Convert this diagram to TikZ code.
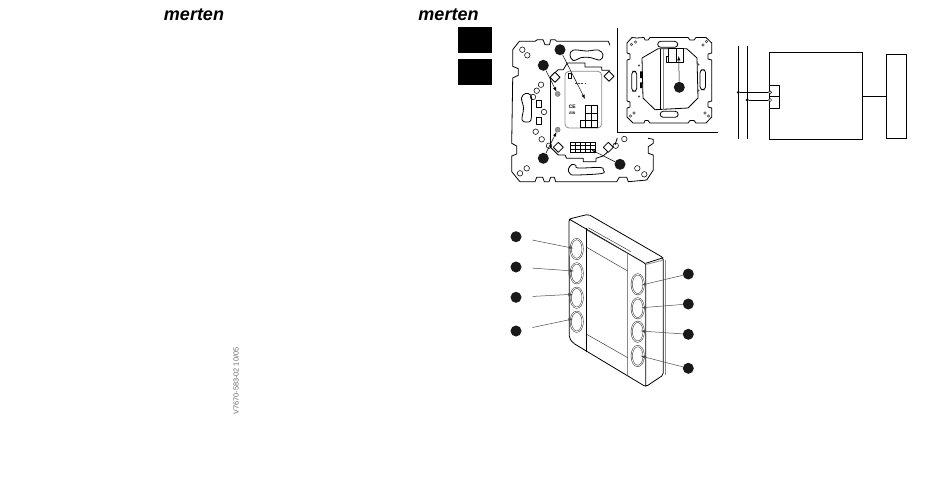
\documentclass[tikz,border=0pt]{standalone}
\usepackage{fontspec}
\setmainfont{Liberation Sans}
\usetikzlibrary{shapes.geometric}
\tikzset{
  part/.style={line width=0.8pt,line join=round},
  thinpart/.style={line width=0.5pt,black!75},
  greypart/.style={line width=0.8pt,black!45},
  dot/.style={circle,fill=black!90,inner sep=0pt,minimum size=11pt},
  hole/.style={circle,draw,line width=0.55pt,inner sep=0pt,minimum size=5.5pt},
  pin/.style={circle,fill=black!40,draw=black!60,inner sep=0pt,minimum size=5pt},
  slot/.style={draw,line width=0.8pt,rounded corners=3pt,inner sep=0pt},
  button/.style={ellipse,draw=black!80,double=white,double distance=0.8pt,line width=0.5pt,inner sep=0pt,minimum width=12pt,minimum height=20pt},
  arrow/.style={-latex,line width=0.5pt},
  lead/.style={line width=0.5pt,black!70},
  logo/.style={font=\fontsize{18}{18}\selectfont\bfseries\itshape,inner sep=0pt},
  tab/.style={fill=black,inner sep=0pt,minimum width=33.5pt,minimum height=26pt}
}
\begin{document}
\begin{tikzpicture}[x=1pt,y=-1pt]
  \fill[white] (0,0) rectangle (950,491);
  % logos and tabs
  \node[logo] (logoa) at (194,15) {merten};
  \node[logo] (logob) at (448.5,15) {merten};
  \node[tab] (taba) at (475,40.3) {};
  \node[tab] (tabb) at (475,72) {};
  \node[rotate=90,black!60,inner sep=0pt,font=\fontsize{7.3}{8}\selectfont] (docno) at (236,381) {V7670-583-02 10/05};

  % big plate
  \draw[part] (610,45.3) -- (608.3,41.3) -- (556.7,41.3) -- (555,39.7) -- (550.7,39.7) -- (549.5,44.7) -- (545,44.7) -- (543,39.7) -- (537.3,39.7) -- (535,41.3) -- (519.3,41.3) -- (512.7,49.7)
    -- (512.7,66.3) -- (518.3,68.7) -- (518.3,75.3) -- (512.7,78) -- (511.7,143.3) -- (516.7,146) -- (516.7,154) -- (511.7,156) -- (511.7,171.7) -- (520,181.7)
    -- (535,181.7) -- (536.7,177.3) -- (542.7,177.3) -- (544.3,181.7) -- (549,181.7) -- (550.7,177.3) -- (554.3,177.3) -- (555.7,181.7) -- (616.7,181.7) -- (619.3,177.3) -- (626.7,177.3) -- (628.3,181.7) -- (646.7,180)
    -- (653.3,170) -- (653.3,155) -- (648.3,153.3) -- (648.3,146.7) -- (653.3,143.3) -- (653.3,139.3) -- (648,138.3);
  \draw[part] (615,145) -- (617.3,138);
  % inner edge
  \draw[part] (550,78) -- (550,146.7);
  \draw[part] (552,75) -- (558.3,69.7) -- (563.3,69.7) -- (567.3,63) -- (585,63) -- (585,67) -- (601.7,67) -- (601.7,70.3) -- (610,70.3);
  \draw[part] (550,146.7) -- (558.3,155) -- (565,155) -- (566.7,158.3) -- (583.3,158.3) -- (583.3,161.7) -- (596,161.7) -- (596,158.3) -- (603,156) -- (610,150);
  \foreach \x/\y in {555/77.3,609/76.3,558.3/147.3,608.3/147.3}
    \draw[part,fill=white] (\x-5,\y) -- (\x,\y-5) -- (\x+5,\y) -- (\x,\y+5) -- cycle;
  % slots
  \draw[part] plot[smooth cycle,tension=0.6] coordinates {(570,55) (573.3,50) (586.7,51) (598.3,50) (603,54.7) (600,60) (590,57.5) (581.7,57.5) (573.3,60.5)};
  \draw[part] plot[smooth cycle,tension=0.6] coordinates {(568.3,169.3) (571.7,164.5) (576,165.5) (578,168) (600,167.5) (603.3,170) (601.7,173.5) (575,175) (570,173.5)};
  \draw[part] plot[smooth cycle,tension=0.6] coordinates {(521.5,98) (525.5,93.5) (531,95.3) (531.5,103) (531,119.7) (526,122) (522,119.7) (523.5,108)};
  % holes
  \foreach \x/\y in {522.3/49.7,527.3/55.3,541/84.7,536.7/90.7,533/97,544/112,535.7/131.7,541.7/139.3,520/173.3,526.7/168.3,637.3/168.3,644.3/174.3,549/145.7,615.7/145.7,624.3/139}
    \node[hole] at (\x,\y) {};
  \draw[part] (536.7,100.7) rectangle (541,107);
  \draw[part] (536.7,117.3) rectangle (541,124);
  % module
  \draw[greypart,rounded corners=4pt] (565,71.3) rectangle (601.7,128);
  \draw[part] (568.3,73) rectangle (571.7,78);
  \draw[thinpart,dash pattern=on 2pt off 1.2pt] (575,83) -- (585,83);
  \node[inner sep=0pt,font=\fontsize{5}{5}\selectfont\bfseries] (ce) at (572.3,106.3) {CE};
  \node[inner sep=0pt,font=\fontsize{3.5}{4}\selectfont\bfseries\itshape] (mark) at (572.3,113.7) {EIB};
  \draw[part] (585.7,105.7) rectangle (597.7,127.3);
  \draw[part] (591.7,105.7) -- (591.7,127.3) (585.7,112.9) -- (597.7,112.9) (585.7,120.1) -- (597.7,120.1);
  \draw[part] (585.7,120.7) -- (580,120.7) -- (580,127.3) -- (585.7,127.3);
  \draw[thinpart,black,shift={(570.7,142.3)}] (0,0) grid[xstep=5pt,ystep=3.33pt] (25,10);
  \draw[part] (570.7,142.3) rectangle (595.7,152.3);
  % callouts of the plate
  \node[dot] (dota) at (560,49.7) {};
  \node[dot] (dotb) at (543.3,65.3) {};
  \node[dot] (dotc) at (543.3,158.3) {};
  \node[dot] (dotd) at (620,164.3) {};
  \node[pin] (pina) at (557.7,94) {};
  \node[pin] (pinb) at (557.7,129.7) {};
  \coordinate (gridtop) at (585,99);
  \coordinate (gridlow) at (591.7,150);
  \draw[arrow] (dota) -- (gridtop);
  \draw[arrow] (dotb) -- (pina);
  \draw[arrow] (dotc) -- (pinb);
  \draw[arrow] (dotd) -- (gridlow);

  % inset
  \draw[part] (617.3,28.3) -- (617.3,132.3) -- (718,132.3);
  \draw[part] (637,38) -- (632,37.5) -- (627,43) -- (627,53) -- (630,54) -- (630,59) -- (627,60) -- (627,101) -- (630,102) -- (630,107) -- (627,108) -- (627,117) -- (633,123)
    -- (644,123) -- (645,120.5) -- (648,120.5) -- (650,123) -- (688,123) -- (690,120.5) -- (694,120.5) -- (696,123) -- (706,123) -- (711.7,117)
    -- (711.7,108) -- (708,107) -- (708,102) -- (711.7,101) -- (711.7,60) -- (708,59) -- (708,54) -- (711.7,53) -- (711.7,43) -- (706,37.5) -- (696,37.5) -- (694,40) -- (690,40) -- (688,37.5) -- (650,37.5) -- (648,40) -- (645,40) -- (644,37.5) -- (637,38);
  \draw[part] (658,48.7) -- (686.7,48.7) -- (697,58) -- (698,98) -- (688,108) -- (655,109.7) -- (643,98) -- (642,58) -- cycle;
  \draw[part] (660,48.7) -- (660,109.5);
  \draw[greypart] (663.3,48.7) -- (663.3,109.5);
  \draw[part,fill=white] (668.3,48.7) rectangle (683.3,62.3);
  \draw[part] (668.3,56.3) -- (666.7,56.3) -- (666.7,62.3) -- (668.3,62.3) (676,48.7) -- (676,62.3);
  \fill (640,71.3) rectangle (642.3,78) (640,82.3) rectangle (642.3,88);
  \node[slot,minimum width=20pt,minimum height=6pt] (slotb) at (667.7,44.3) {};
  \node[slot,minimum width=18pt,minimum height=6pt] (slotc) at (669.2,114.3) {};
  \node[slot,minimum width=5pt,minimum height=20pt] (slotd) at (634.2,81.3) {};
  \node[slot,minimum width=5.5pt,minimum height=20pt] (slote) at (702.8,79.7) {};
  \foreach \x/\y in {639/65.5,639/96.5,698.5/64.5,698.5/90.5}
    \fill[black!70] (\x,\y) circle (1.2pt);
  \foreach \x/\y in {631.5/44.5,635.5/42,706.5/41.5,703/45,630.5/116,634/113,705/113,708.5/116}
    \draw[thinpart] (\x,\y) circle (1.3pt);
  \node[dot] (dote) at (679.3,87.3) {};
  \coordinate (modtop) at (678.7,56);
  \draw[arrow] (dote) -- (modtop);

  % wiring
  \draw[part] (738.3,45.7) -- (738.3,139.3);
  \draw[part] (747.3,45.7) -- (747.3,139.3);
  \node[draw,line width=0.8pt,minimum width=93pt,minimum height=87pt,inner sep=0pt] (bus) at (815.8,95.8) {};
  \node[draw,line width=0.8pt,minimum width=20.4pt,minimum height=84pt,inner sep=0pt] (sensor) at (896.5,96.3) {};
  \draw[part] (769.3,85) -- (779.7,85) -- (779.7,108.7) -- (769.3,108.7) (769.3,96.3) -- (779.7,96.3);
  \node[circle,fill=black,inner sep=0pt,minimum size=3.2pt] (joina) at (738.3,92.3) {};
  \node[circle,fill=black,inner sep=0pt,minimum size=3.2pt] (joinb) at (747.3,100) {};
  \node[circle,draw,fill=white,line width=0.5pt,inner sep=0pt,minimum size=3.2pt] (terma) at (770,92.3) {};
  \node[circle,draw,fill=white,line width=0.5pt,inner sep=0pt,minimum size=3.2pt] (termb) at (770,100) {};
  \draw[part] (joina) -- (terma);
  \draw[part] (joinb) -- (termb);
  \draw[part] (bus.east |- sensor.west) -- (sensor.west);

  % front view
  \draw[part,rounded corners=2pt] (569,219) -- (588.3,214.3) -- (663.3,257.7) -- (663.3,375) -- (645.7,386.7) -- (573,343) -- (569.3,338) -- cycle;
  \draw[part] (569,219) -- (643.3,262.3) -- (645.7,264.3) -- (645.7,386.7);
  \draw[part] (645.7,263.3) -- (663.3,257.7);
  \draw[greypart] (646.7,264.3) -- (663.3,260);
  \draw[greypart] (665,260) -- (665,375);
  \draw[part] (586.7,228.3) -- (586.7,351.7);
  \draw[greypart] (627.7,251.7) -- (627.7,375);
  \draw[thinpart] (588.3,227.7) -- (631,251.7) (586.7,230) -- (628,253.5);
  \draw[thinpart] (586.7,247.3) -- (627.7,271);
  \draw[thinpart] (586.7,334.3) -- (627.7,357.7);
  % buttons
  \node[button] (btna) at (576.7,249) {};
  \node[button] (btnb) at (576.7,273.3) {};
  \node[button] (btnc) at (576.7,297.7) {};
  \node[button] (btnd) at (576.7,321.7) {};
  \node[button] (btne) at (637.7,284.3) {};
  \node[button] (btnf) at (637.7,308.3) {};
  \node[button] (btng) at (637.7,331.7) {};
  \node[button] (btnh) at (637.7,356) {};
  \node[dot] (noa) at (516,236.7) {};
  \node[dot] (nob) at (516,267) {};
  \node[dot] (noc) at (516,297.3) {};
  \node[dot] (nod) at (516,331) {};
  \node[dot] (noe) at (688.3,274) {};
  \node[dot] (nof) at (688.3,304) {};
  \node[dot] (nog) at (688.3,334.3) {};
  \node[dot] (noh) at (688.3,368.3) {};
  \coordinate (tipa) at (573.3,248.3);
  \coordinate (tipb) at (574,271);
  \coordinate (tipc) at (572.7,294.3);
  \coordinate (tipd) at (572.7,319);
  \coordinate (tipe) at (641.7,285);
  \coordinate (tipf) at (641.7,307.7);
  \coordinate (tipg) at (640.7,331);
  \coordinate (tiph) at (640.7,356);
  \draw[arrow,lead,shorten <=11pt] (noa) -- (tipa);
  \draw[arrow,lead,shorten <=11pt] (nob) -- (tipb);
  \draw[arrow,lead,shorten <=11pt] (noc) -- (tipc);
  \draw[arrow,lead,shorten <=11pt] (nod) -- (tipd);
  \draw[arrow,lead] (noe) -- (tipe);
  \draw[arrow,lead] (nof) -- (tipf);
  \draw[arrow,lead] (nog) -- (tipg);
  \draw[arrow,lead] (noh) -- (tiph);
\end{tikzpicture}
\end{document}
